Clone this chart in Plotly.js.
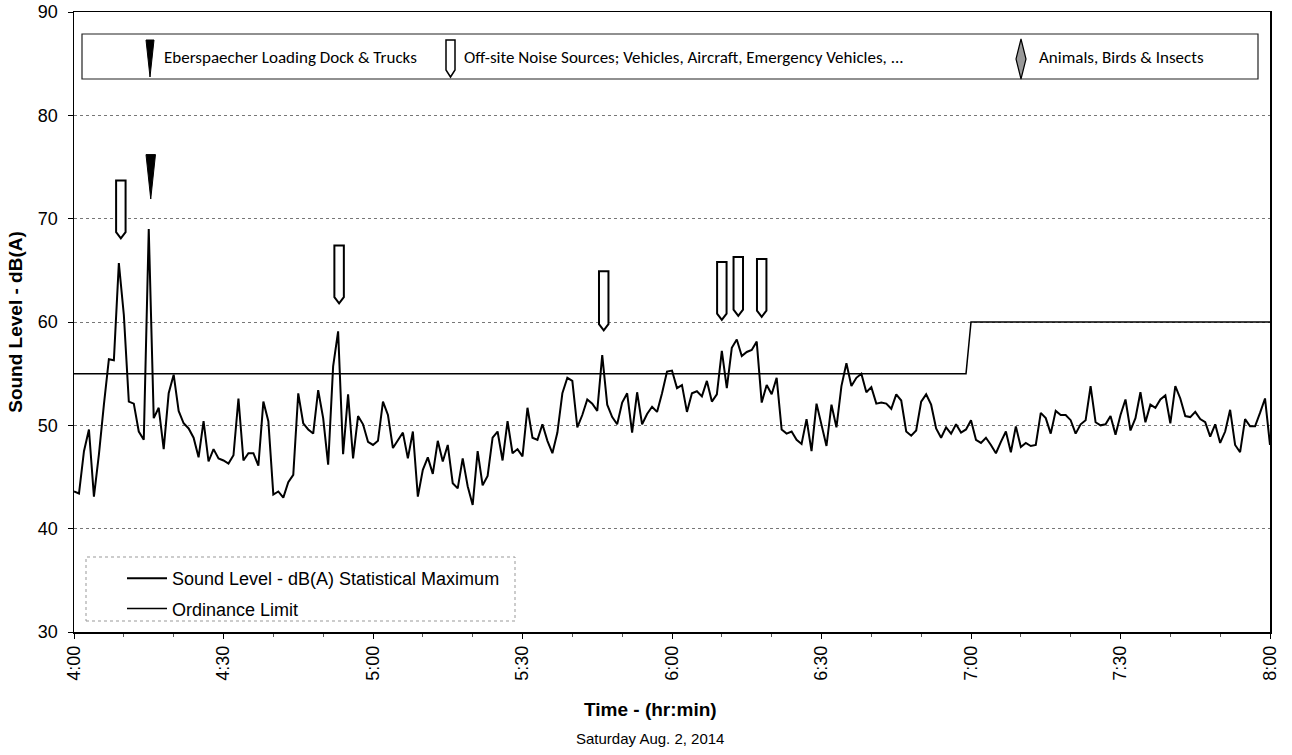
<!DOCTYPE html>
<html><head><meta charset="utf-8">
<script src="https://cdn.plot.ly/plotly-3.0.1.min.js"></script>
<style>html,body{margin:0;padding:0;background:#fff}#chart{width:1292px;height:755px}</style>
</head><body><div id="chart"></div>
<script>
// ---- data ----
const tickLabels = ["4:00","4:30","5:00","5:30","6:00","6:30","7:00","7:30","8:00"];
const tickMinutes = [0,30,60,90,120,150,180,210,240];
// one reading per minute from 4:00 to 8:00
const soundLevel = [
43.6,43.4,47.5,49.6,43.1,47.2,52.0,56.4,56.3,65.7,
60.7,52.3,52.1,49.4,48.6,69.0,50.7,51.7,47.7,53.1,
54.9,51.4,50.2,49.7,48.8,46.9,50.4,46.5,47.7,46.8,
46.6,46.3,47.1,52.6,46.6,47.3,47.3,46.1,52.3,50.4,
43.3,43.6,43.0,44.5,45.2,53.1,50.2,49.6,49.2,53.4,
50.7,46.2,55.7,59.1,47.2,53.0,46.8,50.9,50.1,48.4,
48.1,48.5,52.3,51.0,47.8,48.6,49.3,46.8,49.4,43.1,
45.7,46.9,45.3,48.5,46.5,48.1,44.4,43.9,46.8,44.1,
42.3,47.5,44.2,45.1,48.8,49.4,46.6,50.4,47.3,47.7,
47.0,51.7,48.8,48.6,50.1,48.5,47.3,49.3,53.1,54.6,
54.3,49.8,51.0,52.5,52.1,51.4,56.8,52.0,50.8,50.1,
52.2,53.1,49.3,53.2,50.1,51.1,51.8,51.3,53.1,55.2,
55.3,53.6,53.9,51.3,53.1,53.3,52.8,54.3,52.3,53.0,
57.2,53.6,57.5,58.3,56.7,57.1,57.3,58.1,52.2,53.9,
53.0,54.6,49.6,49.2,49.4,48.6,48.2,50.6,47.5,52.1,
50.0,48.0,52.0,49.8,53.8,56.0,53.8,54.6,55.0,53.2,
53.7,52.1,52.2,52.1,51.6,53.0,52.4,49.4,49.0,49.5,
52.3,53.0,52.0,49.7,48.8,49.8,49.2,50.1,49.3,49.6,
50.5,48.6,48.3,48.8,48.1,47.3,48.4,49.4,47.4,49.9,
47.9,48.3,48.0,48.1,51.2,50.7,49.2,51.4,51.0,51.0,
50.5,49.2,50.1,50.5,53.8,50.3,50.0,50.1,50.9,49.1,
51.0,52.5,49.5,50.7,53.2,50.3,52.0,51.7,52.5,52.9,
50.2,53.8,52.6,50.9,50.8,51.3,50.6,50.3,48.9,50.1,
48.3,49.4,51.5,48.1,47.4,50.6,49.9,49.9,51.2,52.6,
48.1
];
const sampleMinutes = soundLevel.map((_, i) => i);
const limitMinutes = [0, 179, 180, 240];
const limitValues = [55, 55, 60, 60];
// event markers (minute after 4:00, top and tip level in dB)
const offsiteMinutes = [9.4, 53.2, 106.3, 130.0, 133.3, 138.0];
const offsiteTop     = [73.7, 67.4, 64.9, 65.8, 66.3, 66.1];
const offsiteTip     = [68.1, 61.8, 59.2, 60.2, 60.6, 60.5];
const truckMinutes = [15.4];
const truckTop     = [76.2];
const truckTip     = [71.9];
const seriesNames = ["Sound Level - dB(A) Statistical Maximum", "Ordinance Limit"];
const eventNames = ["Eberspaecher Loading Dock & Trucks",
  "Off-site Noise Sources; Vehicles, Aircraft, Emergency Vehicles, ...",
  "Animals, Birds & Insects"];

// ---- layout helpers ----
const L = 74, R = 22, T = 12, B = 123, W = 1292, H = 755;
const PW = W - L - R, PH = H - T - B;
const X = px => (px - L) / PW;
const Y = py => (H - B - py) / PH;
const FONT = "Arial, 'Liberation Sans', sans-serif";
const CAL = "Carlito, Calibri, Lato, 'Noto Sans', sans-serif";

function offsitePath(xl, xr, yt, yb, ytip) {
  const xc = (xl + xr) / 2;
  return `M${xl},${yt} L${xr},${yt} L${xr},${yb} L${xc},${ytip} L${xl},${yb} Z`;
}
function truckPath(xl, xr, yt, ytip) {
  const xc = (xl + xr) / 2;
  return `M${xl},${yt} L${xr},${yt} L${xc},${ytip} Z`;
}
function diamondPath(xl, xr, yt, yb) {
  const xc = (xl + xr) / 2, ym = (yt + yb) / 2;
  return `M${xc},${yt} L${xr},${ym} L${xc},${yb} L${xl},${ym} Z`;
}

const shapes = [];
const hw = 0.95, tipH = 0.6;
offsiteMinutes.forEach((m, i) => {
  shapes.push({type: 'path', xref: 'x', yref: 'y', layer: 'above',
    path: offsitePath(m - hw, m + hw, offsiteTop[i], offsiteTip[i] + tipH, offsiteTip[i]),
    line: {color: '#000', width: 2}, fillcolor: '#fff'});
});
truckMinutes.forEach((m, i) => {
  shapes.push({type: 'path', xref: 'x', yref: 'y', layer: 'above',
    path: truckPath(m - hw, m + hw, truckTop[i], truckTip[i]),
    line: {color: '#000', width: 1}, fillcolor: '#000'});
});
// top event legend box
shapes.push({type: 'rect', xref: 'paper', yref: 'paper', x0: X(82), x1: X(1258), y0: Y(79), y1: Y(34),
  line: {color: '#222', width: 1.2}, fillcolor: '#fff', layer: 'above'});
shapes.push({type: 'path', xref: 'paper', yref: 'paper', layer: 'above',
  path: truckPath(X(146), X(154), Y(40), Y(77)), line: {color: '#000', width: 1}, fillcolor: '#000'});
shapes.push({type: 'path', xref: 'paper', yref: 'paper', layer: 'above',
  path: offsitePath(X(446), X(455), Y(40), Y(70), Y(77)), line: {color: '#000', width: 1.5}, fillcolor: '#fff'});
shapes.push({type: 'path', xref: 'paper', yref: 'paper', layer: 'above',
  path: diamondPath(X(1016), X(1026), Y(39), Y(79)), line: {color: '#000', width: 1.2}, fillcolor: '#999'});
// bottom series legend box
shapes.push({type: 'rect', xref: 'paper', yref: 'paper', x0: X(86), x1: X(515), y0: Y(621), y1: Y(557),
  line: {color: '#999', width: 1, dash: 'dot'}, fillcolor: 'rgba(0,0,0,0)'});

const annotations = [
  {xref: 'paper', yref: 'paper', x: X(162), y: Y(57), xanchor: 'left', yanchor: 'middle', showarrow: false,
   text: eventNames[0], font: {family: CAL, size: 17, color: '#000'}},
  {xref: 'paper', yref: 'paper', x: X(462), y: Y(57), xanchor: 'left', yanchor: 'middle', showarrow: false,
   text: eventNames[1], font: {family: CAL, size: 17, color: '#000'}},
  {xref: 'paper', yref: 'paper', x: X(1037), y: Y(57), xanchor: 'left', yanchor: 'middle', showarrow: false,
   text: eventNames[2], font: {family: CAL, size: 17, color: '#000'}},
  {xref: 'paper', yref: 'paper', x: X(650), y: Y(709), xanchor: 'center', yanchor: 'middle', showarrow: false,
   text: '<b>Time - (hr:min)</b>', font: {family: FONT, size: 19, color: '#000'}},
  {xref: 'paper', yref: 'paper', x: X(650), y: Y(738), xanchor: 'center', yanchor: 'middle', showarrow: false,
   text: 'Saturday Aug. 2, 2014', font: {family: FONT, size: 15, color: '#000'}}
];

const traces = [
  {x: sampleMinutes, y: soundLevel, type: 'scatter', mode: 'lines', name: seriesNames[0],
   line: {color: '#000', width: 2}, legendgroup: 'a'},
  {x: limitMinutes, y: limitValues, type: 'scatter', mode: 'lines', name: seriesNames[1],
   line: {color: '#000', width: 1.5}, legendgroup: 'b'}
];

const layout = {
  width: W, height: H,
  margin: {l: L, r: R, t: T, b: B},
  paper_bgcolor: '#fff', plot_bgcolor: '#fff',
  font: {family: FONT, size: 18, color: '#000'},
  showlegend: true,
  legend: {x: X(122), y: Y(560), xanchor: 'left', yanchor: 'top', bgcolor: 'rgba(0,0,0,0)', borderwidth: 0,
    font: {family: FONT, size: 18, color: '#000'}, itemwidth: 40, tracegroupgap: 4},
  xaxis: {range: [0, 240], tickmode: 'array', tickvals: tickMinutes, ticktext: tickLabels, tickangle: -90,
    showgrid: false, zeroline: false, showline: true, mirror: true, linecolor: '#000', linewidth: 1.5,
    ticks: 'outside', ticklen: 5, tickcolor: '#000', tickfont: {family: FONT, size: 18},
    minor: {tickmode: 'linear', tick0: 0, dtick: 10, ticks: 'outside', ticklen: 3, tickcolor: '#555', showgrid: false}},
  yaxis: {range: [30, 90], dtick: 10, showgrid: true, gridcolor: '#777', griddash: 'dot', gridwidth: 1,
    zeroline: false, showline: true, mirror: true, linecolor: '#000', linewidth: 1.5,
    ticks: 'outside', ticklen: 5, tickcolor: '#000', tickfont: {family: FONT, size: 18}, ticklabelstandoff: 6,
    title: {text: '<b>Sound Level - dB(A)</b>', font: {family: FONT, size: 19}, standoff: 10}},
  shapes: shapes,
  annotations: annotations
};

Plotly.newPlot('chart', traces, layout, {displayModeBar: false, staticPlot: true});
</script>
</body></html>
